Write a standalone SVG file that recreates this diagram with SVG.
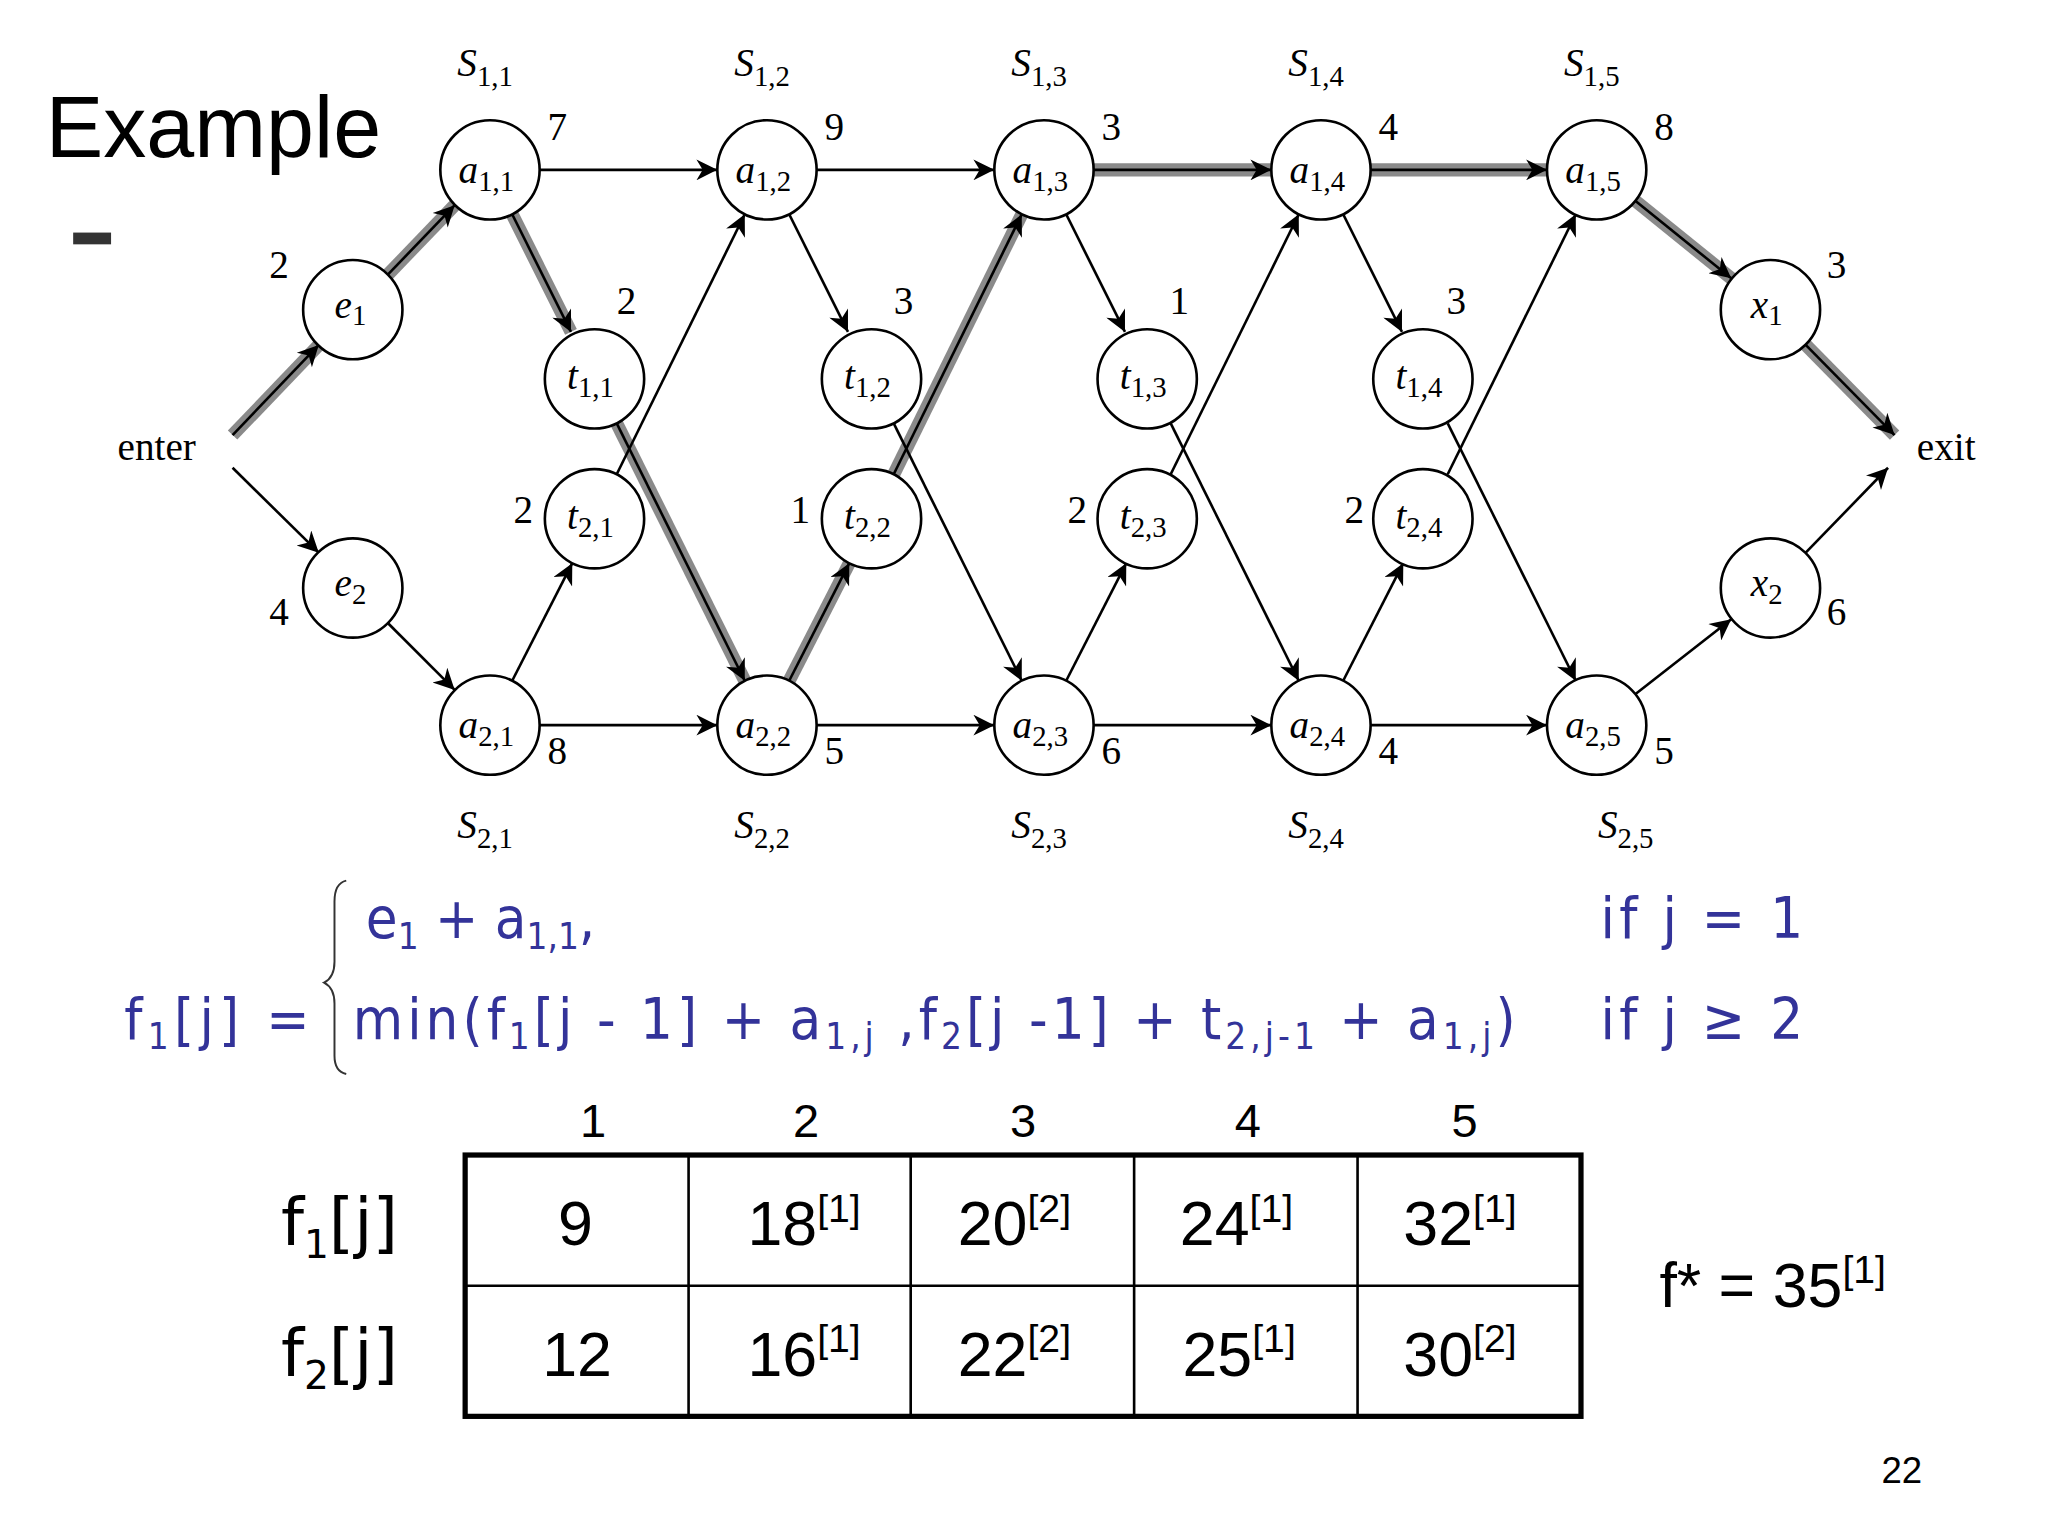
<svg xmlns="http://www.w3.org/2000/svg" width="2048" height="1536" viewBox="0 0 2048 1536">
<defs>
<marker id="ah" viewBox="0 0 10 10" refX="10" refY="5" markerWidth="26" markerHeight="16" markerUnits="userSpaceOnUse" orient="auto"><path d="M0,0 L10,5 L0,10 L3,5 z" fill="#000"/></marker>
<style>
.n{fill:#fff;stroke:#000;stroke-width:2}
.e{stroke:#000;stroke-width:2;fill:none}
.hl{stroke:#8a8a8a;stroke-width:10;fill:none}
.ser{font-family:"Liberation Serif",serif;font-size:30px}
.it{font-family:"Liberation Serif",serif;font-style:italic;font-size:30px}
.m{font-family:"DejaVu Sans Condensed","DejaVu Sans",sans-serif;font-size:44px;fill:#333399}
.s{font-family:"Liberation Sans",sans-serif;font-size:36px}
.b{font-family:"Liberation Sans",sans-serif;font-size:48px}
</style>
</defs>
<rect width="2048" height="1536" fill="#fff"/>
<g transform="scale(1.3066)">
<text x="35" y="120" font-family="Liberation Sans,sans-serif" font-size="66">Example</text>
<rect x="56" y="178" width="29" height="9" fill="#333"/>
<g id="connectors">
<g class="hl">
<polyline points="178,333 244,264"/><polyline points="297,210 348,157"/>
<polyline points="392,164 437,254"/><polyline points="472,324 570,521"/>
<polyline points="604,521 650,431"/><polyline points="684,363 782,164"/>
<polyline points="837,130 973,130"/><polyline points="1049,130 1184,130"/>
<polyline points="1252,154 1325,213"/><polyline points="1382,264 1450,333"/>
</g>
<g class="e" marker-end="url(#ah)">
<line x1="178" y1="333" x2="244" y2="264"/><line x1="297" y1="210" x2="348" y2="157"/>
<line x1="178" y1="358" x2="244" y2="423"/><line x1="297" y1="477" x2="348" y2="528"/>
<line x1="1252" y1="154" x2="1325" y2="213"/><line x1="1382" y1="264" x2="1450" y2="333"/>
<line x1="1252" y1="531" x2="1325" y2="474"/><line x1="1382" y1="423" x2="1445" y2="358"/>
<line x1="413" y1="130" x2="549" y2="130"/><line x1="625" y1="130" x2="761" y2="130"/><line x1="837" y1="130" x2="973" y2="130"/><line x1="1049" y1="130" x2="1184" y2="130"/>
<line x1="413" y1="555" x2="549" y2="555"/><line x1="625" y1="555" x2="761" y2="555"/><line x1="837" y1="555" x2="973" y2="555"/><line x1="1049" y1="555" x2="1184" y2="555"/>
<line x1="392" y1="164" x2="437" y2="254"/><line x1="604" y1="164" x2="649" y2="254"/><line x1="816" y1="164" x2="861" y2="254"/><line x1="1028" y1="164" x2="1073" y2="254"/>
<line x1="472" y1="324" x2="570" y2="521"/><line x1="684" y1="324" x2="782" y2="521"/><line x1="896" y1="324" x2="994" y2="521"/><line x1="1108" y1="324" x2="1206" y2="521"/>
<line x1="392" y1="521" x2="438" y2="431"/><line x1="604" y1="521" x2="650" y2="431"/><line x1="816" y1="521" x2="862" y2="431"/><line x1="1028" y1="521" x2="1074" y2="431"/>
<line x1="472" y1="363" x2="570" y2="164"/><line x1="684" y1="363" x2="782" y2="164"/><line x1="896" y1="363" x2="994" y2="164"/><line x1="1108" y1="363" x2="1206" y2="164"/>
</g>
</g>
<g id="nodes">
<g id="a11"><circle class="n" cx="375" cy="130" r="38"/><text class="it" x="351" y="140">a<tspan font-size="22" font-style="normal" dy="6">1,1</tspan></text></g>
<g id="a12"><circle class="n" cx="587" cy="130" r="38"/><text class="it" x="563" y="140">a<tspan font-size="22" font-style="normal" dy="6">1,2</tspan></text></g>
<g id="a13"><circle class="n" cx="799" cy="130" r="38"/><text class="it" x="775" y="140">a<tspan font-size="22" font-style="normal" dy="6">1,3</tspan></text></g>
<g id="a14"><circle class="n" cx="1011" cy="130" r="38"/><text class="it" x="987" y="140">a<tspan font-size="22" font-style="normal" dy="6">1,4</tspan></text></g>
<g id="a15"><circle class="n" cx="1222" cy="130" r="38"/><text class="it" x="1198" y="140">a<tspan font-size="22" font-style="normal" dy="6">1,5</tspan></text></g>
<g id="a21"><circle class="n" cx="375" cy="555" r="38"/><text class="it" x="351" y="565">a<tspan font-size="22" font-style="normal" dy="6">2,1</tspan></text></g>
<g id="a22"><circle class="n" cx="587" cy="555" r="38"/><text class="it" x="563" y="565">a<tspan font-size="22" font-style="normal" dy="6">2,2</tspan></text></g>
<g id="a23"><circle class="n" cx="799" cy="555" r="38"/><text class="it" x="775" y="565">a<tspan font-size="22" font-style="normal" dy="6">2,3</tspan></text></g>
<g id="a24"><circle class="n" cx="1011" cy="555" r="38"/><text class="it" x="987" y="565">a<tspan font-size="22" font-style="normal" dy="6">2,4</tspan></text></g>
<g id="a25"><circle class="n" cx="1222" cy="555" r="38"/><text class="it" x="1198" y="565">a<tspan font-size="22" font-style="normal" dy="6">2,5</tspan></text></g>
<g id="t11"><circle class="n" cx="455" cy="290" r="38"/><text class="it" x="434" y="298">t<tspan font-size="22" font-style="normal" dy="6">1,1</tspan></text></g>
<g id="t12"><circle class="n" cx="667" cy="290" r="38"/><text class="it" x="646" y="298">t<tspan font-size="22" font-style="normal" dy="6">1,2</tspan></text></g>
<g id="t13"><circle class="n" cx="878" cy="290" r="38"/><text class="it" x="857" y="298">t<tspan font-size="22" font-style="normal" dy="6">1,3</tspan></text></g>
<g id="t14"><circle class="n" cx="1089" cy="290" r="38"/><text class="it" x="1068" y="298">t<tspan font-size="22" font-style="normal" dy="6">1,4</tspan></text></g>
<g id="t21"><circle class="n" cx="455" cy="397" r="38"/><text class="it" x="434" y="405">t<tspan font-size="22" font-style="normal" dy="6">2,1</tspan></text></g>
<g id="t22"><circle class="n" cx="667" cy="397" r="38"/><text class="it" x="646" y="405">t<tspan font-size="22" font-style="normal" dy="6">2,2</tspan></text></g>
<g id="t23"><circle class="n" cx="878" cy="397" r="38"/><text class="it" x="857" y="405">t<tspan font-size="22" font-style="normal" dy="6">2,3</tspan></text></g>
<g id="t24"><circle class="n" cx="1089" cy="397" r="38"/><text class="it" x="1068" y="405">t<tspan font-size="22" font-style="normal" dy="6">2,4</tspan></text></g>
<g id="e1"><circle class="n" cx="270" cy="237" r="38"/><text class="it" x="256" y="243">e<tspan font-size="22" font-style="normal" dy="6">1</tspan></text></g>
<g id="e2"><circle class="n" cx="270" cy="450" r="38"/><text class="it" x="256" y="456">e<tspan font-size="22" font-style="normal" dy="6">2</tspan></text></g>
<g id="x1"><circle class="n" cx="1355" cy="237" r="38"/><text class="it" x="1340" y="243">x<tspan font-size="22" font-style="normal" dy="6">1</tspan></text></g>
<g id="x2"><circle class="n" cx="1355" cy="450" r="38"/><text class="it" x="1340" y="456">x<tspan font-size="22" font-style="normal" dy="6">2</tspan></text></g>
</g>
<g class="ser">
<text x="90" y="352">enter</text><text x="1467" y="352">exit</text>
<text x="419" y="107">7</text><text x="631" y="107">9</text><text x="843" y="107">3</text><text x="1055" y="107">4</text><text x="1266" y="107">8</text>
<text x="419" y="585">8</text><text x="631" y="585">5</text><text x="843" y="585">6</text><text x="1055" y="585">4</text><text x="1266" y="585">5</text>
<text x="472" y="240">2</text><text x="684" y="240">3</text><text x="895" y="240">1</text><text x="1107" y="240">3</text>
<text x="393" y="400">2</text><text x="605" y="400">1</text><text x="817" y="400">2</text><text x="1029" y="400">2</text>
<text x="206" y="213">2</text><text x="206" y="478">4</text><text x="1398" y="213">3</text><text x="1398" y="478">6</text>
</g>
<g class="it">
<text x="350" y="58">S<tspan font-size="22" font-style="normal" dy="8">1,1</tspan></text>
<text x="562" y="58">S<tspan font-size="22" font-style="normal" dy="8">1,2</tspan></text>
<text x="774" y="58">S<tspan font-size="22" font-style="normal" dy="8">1,3</tspan></text>
<text x="986" y="58">S<tspan font-size="22" font-style="normal" dy="8">1,4</tspan></text>
<text x="1197" y="58">S<tspan font-size="22" font-style="normal" dy="8">1,5</tspan></text>
<text x="350" y="641">S<tspan font-size="22" font-style="normal" dy="8">2,1</tspan></text>
<text x="562" y="641">S<tspan font-size="22" font-style="normal" dy="8">2,2</tspan></text>
<text x="774" y="641">S<tspan font-size="22" font-style="normal" dy="8">2,3</tspan></text>
<text x="986" y="641">S<tspan font-size="22" font-style="normal" dy="8">2,4</tspan></text>
<text x="1223" y="641">S<tspan font-size="22" font-style="normal" dy="8">2,5</tspan></text>
</g>
<path d="M265,674 Q256,676 256,690 L256,736 Q256,748 248,752 Q256,756 256,768 L256,808 Q256,820 265,822" fill="none" stroke="#333" stroke-width="1.5"/>
<g class="m">
<text x="280" y="718">e<tspan font-size="28" dy="8">1</tspan><tspan dy="-8"> + a</tspan><tspan font-size="28" dy="8">1,1</tspan><tspan dy="-8">,</tspan></text>
<text x="95" y="795" textLength="142" lengthAdjust="spacing">f<tspan font-size="28" dy="8">1</tspan><tspan dy="-8">[j] =</tspan></text>
<text x="270" y="795" textLength="890" lengthAdjust="spacing">min(f<tspan font-size="28" dy="8">1</tspan><tspan dy="-8">[j - 1] + a</tspan><tspan font-size="28" dy="8">1,j</tspan><tspan dy="-8"> ,f</tspan><tspan font-size="28" dy="8">2</tspan><tspan dy="-8">[j -1] + t</tspan><tspan font-size="28" dy="8">2,j-1</tspan><tspan dy="-8"> + a</tspan><tspan font-size="28" dy="8">1,j</tspan><tspan dy="-8">)</tspan></text>
<text x="1225" y="718" textLength="155" lengthAdjust="spacing">if j = 1</text>
<text x="1225" y="795" textLength="155" lengthAdjust="spacing">if j ≥ 2</text>
</g>
<g id="table">
<rect x="356" y="884" width="854" height="200" fill="none" stroke="#000" stroke-width="4"/>
<line x1="356" y1="984" x2="1210" y2="984" stroke="#000" stroke-width="2"/>
<line x1="527" y1="884" x2="527" y2="1084" stroke="#000" stroke-width="2"/>
<line x1="697" y1="884" x2="697" y2="1084" stroke="#000" stroke-width="2"/>
<line x1="868" y1="884" x2="868" y2="1084" stroke="#000" stroke-width="2"/>
<line x1="1039" y1="884" x2="1039" y2="1084" stroke="#000" stroke-width="2"/>
<g class="s" text-anchor="middle"><text x="454" y="870">1</text><text x="617" y="870">2</text><text x="783" y="870">3</text><text x="955" y="870">4</text><text x="1121" y="870">5</text></g>
<g class="b">
<text x="427" y="953">9</text>
<text x="572" y="953">18<tspan font-size="30" dy="-18">[1]</tspan></text>
<text x="733" y="953">20<tspan font-size="30" dy="-18">[2]</tspan></text>
<text x="903" y="953">24<tspan font-size="30" dy="-18">[1]</tspan></text>
<text x="1074" y="953">32<tspan font-size="30" dy="-18">[1]</tspan></text>
<text x="415" y="1053">12</text>
<text x="572" y="1053">16<tspan font-size="30" dy="-18">[1]</tspan></text>
<text x="733" y="1053">22<tspan font-size="30" dy="-18">[2]</tspan></text>
<text x="905" y="1053">25<tspan font-size="30" dy="-18">[1]</tspan></text>
<text x="1074" y="1053">30<tspan font-size="30" dy="-18">[2]</tspan></text>
<text x="1270" y="1000">f* = 35<tspan font-size="30" dy="-18">[1]</tspan></text>
</g>
<g font-family="DejaVu Sans,sans-serif" font-size="50">
<text x="215" y="953">f<tspan font-size="30" dy="10">1</tspan><tspan dy="-10">[j]</tspan></text>
<text x="215" y="1053">f<tspan font-size="30" dy="10">2</tspan><tspan dy="-10">[j]</tspan></text>
</g>
</g>
<text x="1440" y="1135" font-family="Liberation Sans,sans-serif" font-size="28">22</text>
</g>
</svg>
